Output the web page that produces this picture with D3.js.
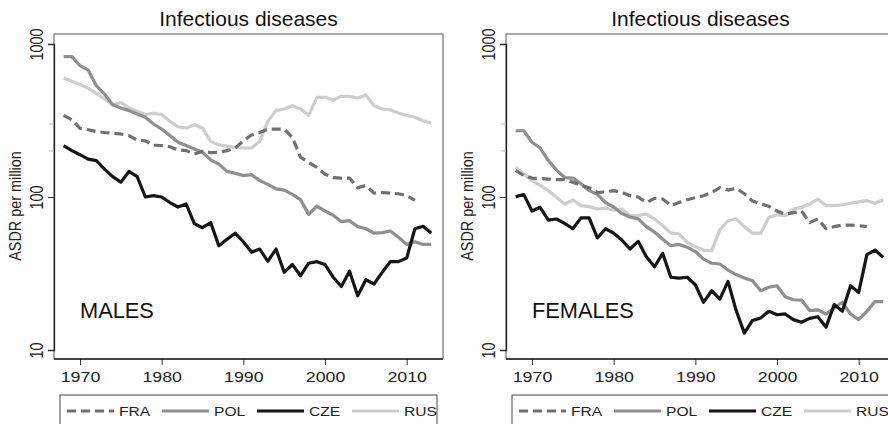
<!DOCTYPE html>
<html>
<head>
<meta charset="utf-8">
<script src="https://cdn.jsdelivr.net/npm/d3@7"></script>
<style>
body{margin:0;background:#fff;}
svg{display:block;font-family:"Liberation Sans",Arial,sans-serif;}
</style>
</head>
<body>
<svg id="chart"></svg>
<script>
// years on the x axis
var years = [1968,1969,1970,1971,1972,1973,1974,1975,1976,1977,1978,1979,1980,1981,1982,1983,1984,1985,1986,1987,
             1988,1989,1990,1991,1992,1993,1994,1995,1996,1997,1998,1999,2000,2001,2002,2003,2004,2005,2006,2007,
             2008,2009,2010,2011,2012,2013];
var countries = ["FRA","POL","CZE","RUS"];
var yTicks = [10,100,1000];
var yMinor = [200,300];
var xTicks = [1970,1980,1990,2000,2010];

// ASDR per million, males (FRA stops at 2011)
var malesFRA = [342,320,281,275,268,264,261,258,252,235,233,218,217,213,203,201,191,199,195,196,201,209,233,
                254,264,278,278,278,245,182,168,156,141,134,133,133,115,119,106,107,106,105,102,95];
var malesPOL = [826,826,722,676,534,471,401,382,367,349,332,300,278,252,228,217,206,196,175,164,147,143,138,
                140,128,121,113,111,104,96,77,87,81,76,69,70,64,62,58,58.5,60,54.5,49,51,49,49];
var malesCZE = [217,201,189,177,173,152,136,125,147,136,100,102,100,92,86,90,67,63,68,48,53,58,51,
                43.5,45.7,38,45.7,32.2,36.2,30.6,36.9,37.8,36.2,29.9,26,32.7,22.6,28.8,27,32.2,37.8,37.8,39.9,62,64.4,58.2];
var malesRUS = [600,570,543,513,476,437,399,415,382,364,346,352,346,312,288,282,297,282,231,219,215,211,209,
                209,231,312,367,376,395,376,341,448,448,430,455,455,444,465,395,376,371,354,341,332,315,303];

// females
var femalesFRA = [149,138,133,132,131,130,130,125,119,115,107,108,110,107,102,100,92,98,97,88,92,96,99,
                  102,107,115,111,114,105,94,90,87,81,77,79,81,68,72,62,64,65.5,65.5,65,64];
var femalesPOL = [271,271,228,209,173,150,134,133,122,110,104,92,86,78,74,72,64,59,53,48,49,47,44,
                  39.3,36.9,36.5,33.3,31.1,29.6,28.4,24.4,25.7,26.3,22.3,21.3,21.2,18.1,18.3,17.2,18.8,20.5,17.2,15.8,17.9,20.7,20.7];
var femalesCZE = [100.5,103.6,81,85.6,70.7,71.8,67.3,62,73,73,54,62,58,52.3,45.7,51.3,40.7,35,42.8,29.9,29.5,29.9,26.7,
                  20.5,24.4,21.5,28.1,18.1,12.9,15.6,16.2,17.9,17,17.2,15.8,15.2,16.1,16.5,14.1,19.8,17.9,26.3,23.8,42,45,40.3];
var femalesRUS = [157,141,128,119,110,99.5,90,95.6,87.8,86.5,83.5,84.7,82,83.5,75.5,75.5,77.4,71.8,65,58,57.3,50.5,47.4,
                  45,44.6,61,70,72,64,58,58,73.6,76.6,75.5,83.5,85.6,90,97,87.8,87.8,89,91,93,94.6,91,96];

var styles = {
    FRA:{color:"#707070",dash:"9,5"},
    POL:{color:"#8f8f8f",dash:null},
    CZE:{color:"#151515",dash:null},
    RUS:{color:"#cdcdcd",dash:null}
};

var screen = {width:888,height:424};
var box = {left:54,right:443,top:34,bottom:359};

var svg = d3.select("#chart")
    .attr("width",screen.width)
    .attr("height",screen.height);

var xScale = d3.scaleLinear()
    .domain([1970,2010])
    .range([80,406.7]);
var yScale = d3.scaleLog()
    .domain([10,1000])
    .range([350,44]);

var drawPanel = function(offset,label,series)
    {
        var panel = svg.append("g")
            .attr("transform","translate("+offset+",0)");

        // frame
        panel.append("rect")
            .attr("x",box.left)
            .attr("y",box.top)
            .attr("width",box.right-box.left)
            .attr("height",box.bottom-box.top)
            .attr("fill","none")
            .attr("stroke","#555")
            .attr("stroke-width",1);

        var lines = panel.append("g");
        var line = d3.line()
            .x(function(d){return xScale(d.year);})
            .y(function(d){return yScale(d.value);});

        // draw in this order so the black line sits on top
        ["RUS","POL","FRA","CZE"].forEach(function(c)
            {
                var pts = series[c].map(function(v,i){return {year:years[i],value:v};});
                lines.append("path")
                    .datum(pts)
                    .attr("d",line)
                    .attr("fill","none")
                    .attr("stroke",styles[c].color)
                    .attr("stroke-width",3.2)
                    .attr("stroke-linejoin","round")
                    .attr("stroke-dasharray",styles[c].dash);
            });

        // y axis
        var yAxis = d3.axisLeft(yScale)
            .tickValues(yTicks)
            .tickSize(6)
            .tickFormat(d3.format("d"));
        var ya = panel.append("g")
            .attr("transform","translate("+box.left+",0)")
            .call(yAxis);
        ya.select(".domain").attr("stroke","#222").attr("stroke-width",1.3);
        ya.selectAll(".tick line").attr("stroke","#333");
        ya.selectAll(".tick text")
            .attr("font-size",14.5)
            .attr("fill","#222")
            .attr("text-anchor","middle")
            .attr("x",0)
            .attr("y",0)
            .attr("dy",0)
            .attr("transform","translate(-11,0) scale(1.3,1) rotate(-90)");
        panel.append("g")
            .selectAll("line")
            .data(yMinor)
            .enter()
            .append("line")
            .attr("x1",box.left-5)
            .attr("x2",box.left)
            .attr("y1",function(d){return yScale(d);})
            .attr("y2",function(d){return yScale(d);})
            .attr("stroke","#bbb");

        // x axis
        var xAxis = d3.axisBottom(xScale)
            .tickValues(xTicks)
            .tickSize(6)
            .tickFormat(d3.format("d"));
        var xa = panel.append("g")
            .attr("transform","translate(0,"+box.bottom+")")
            .call(xAxis);
        xa.select(".domain").remove();
        xa.append("line")
            .attr("x1",box.left)
            .attr("x2",box.right)
            .attr("stroke","#222")
            .attr("stroke-width",1.3);
        xa.selectAll(".tick line").attr("stroke","#333");
        xa.selectAll(".tick text")
            .attr("font-size",14)
            .attr("fill","#222")
            .attr("y",13)
            .attr("dy","0.71em")
            .attr("transform","scale(1.27,1)");

        // labels
        panel.append("text")
            .text("Infectious diseases")
            .attr("x",(box.left+box.right)/2)
            .attr("y",26)
            .attr("text-anchor","middle")
            .attr("font-size",21)
            .attr("fill","#111");
        panel.append("text")
            .text("ASDR per million")
            .attr("text-anchor","middle")
            .attr("transform","translate(20.5,206) scale(1.2,1) rotate(-90)")
            .attr("font-size",14.4)
            .attr("fill","#222");
        panel.append("text")
            .text(label)
            .attr("x",80)
            .attr("y",318)
            .attr("font-size",21.8)
            .attr("fill","#111");

        drawLegend(panel);
    }

var drawLegend = function(panel)
    {
        var lg = panel.append("g");
        lg.append("rect")
            .attr("x",60)
            .attr("y",395)
            .attr("width",377)
            .attr("height",50)
            .attr("fill","#fff")
            .attr("stroke","#444")
            .attr("stroke-width",1);
        var item = lg.selectAll("g.item")
            .data(countries)
            .enter()
            .append("g")
            .attr("transform",function(d,i){return "translate("+(67+i*95)+",411)";});
        item.append("line")
            .attr("x1",0)
            .attr("x2",47)
            .attr("stroke",function(d){return styles[d].color;})
            .attr("stroke-width",3.2)
            .attr("stroke-dasharray",function(d){return styles[d].dash;});
        item.append("text")
            .text(function(d){return d;})
            .attr("font-size",13)
            .attr("fill","#222")
            .attr("transform","translate(52,5) scale(1.2,1)");
    }

drawPanel(0,"MALES",{FRA:malesFRA,POL:malesPOL,CZE:malesCZE,RUS:malesRUS});
drawPanel(452,"FEMALES",{FRA:femalesFRA,POL:femalesPOL,CZE:femalesCZE,RUS:femalesRUS});
</script>
</body>
</html>
